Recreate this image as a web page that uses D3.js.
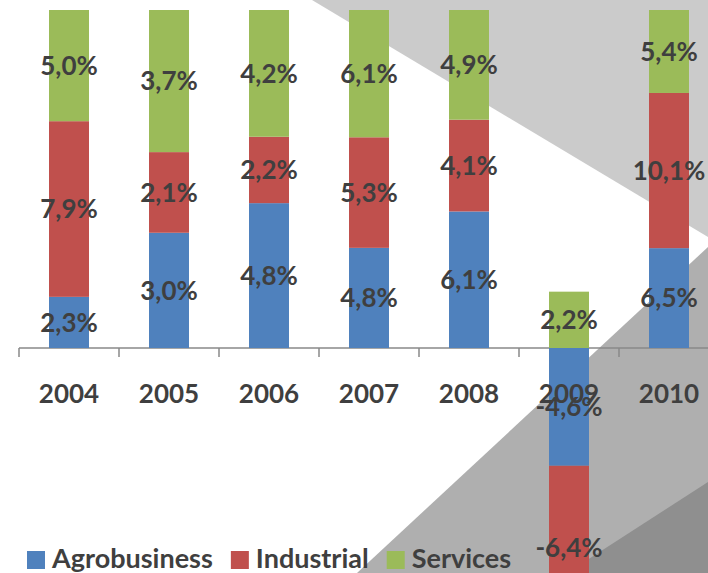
<!DOCTYPE html>
<html>
<head>
<meta charset="utf-8">
<script src="https://cdn.jsdelivr.net/npm/d3@7"></script>
<style>
  html, body { margin: 0; padding: 0; background: #ffffff; }
  svg { display: block; }
  text { font-family: Lato, "Open Sans", sans-serif; font-weight: 700; fill: #3f3f3f; }
</style>
</head>
<body>
<svg id="chart" width="708" height="573"></svg>
<script>
// Real GDP growth by sector, shown as each sector's share of the year's total movement
const years = ["2004", "2005", "2006", "2007", "2008", "2009", "2010"];
const agrobusiness = [2.3, 3.0, 4.8, 4.8, 6.1, -4.6, 6.5];
const industrial   = [7.9, 2.1, 2.2, 5.3, 4.1, -6.4, 10.1];
const services     = [5.0, 3.7, 4.2, 6.1, 4.9, 2.2, 5.4];
const seriesNames  = ["Agrobusiness", "Industrial", "Services"];
const seriesColors = ["#4f81bd", "#c0504d", "#9bbb59"];

const W = 708, H = 573;
const svg = d3.select("#chart");

// Slide backdrop: grey diagonal panels
const backdrop = [
  { fill: "#cbcbcb", pts: [[312, 0], [708, 0], [708, 237]] },
  { fill: "#afafaf", pts: [[357, 573], [708, 247], [708, 573]] },
  { fill: "#8f8f8f", pts: [[567, 573], [708, 482], [708, 573]] }
];
svg.append("g").selectAll("polygon").data(backdrop).join("polygon")
  .attr("points", d => d.pts.map(p => p.join(",")).join(" "))
  .attr("fill", d => d.fill);

// Build rows of shares: each value over the sum of absolute values for its year
const rows = years.map((y, i) => {
  const vals = [agrobusiness[i], industrial[i], services[i]];
  const tot = d3.sum(vals, v => Math.abs(v));
  const r = { year: y };
  seriesNames.forEach((k, j) => { r[k] = vals[j] / tot * 100; r[k + "_v"] = vals[j]; });
  return r;
});

const stack = d3.stack().keys(seriesNames).offset(d3.stackOffsetDiverging);
const layers = stack(rows);

const x = d3.scaleBand().domain(years).range([19, 719]).paddingInner(0.6).paddingOuter(0.3);
const y = d3.scaleLinear().domain([0, 100]).range([348, 10]);

// Category axis with boundary ticks
const gap = (x.step() - x.bandwidth()) / 2;
const axis = svg.append("g");
axis.append("line")
  .attr("x1", x(years[0]) - gap).attr("x2", W)
  .attr("y1", y(0)).attr("y2", y(0))
  .attr("stroke", "#888888").attr("stroke-width", 1.5);
const bounds = years.map(d => x(d) - gap).concat([x(years[years.length - 1]) + x.bandwidth() + gap]);
axis.selectAll("line.tick").data(bounds).join("line")
  .attr("class", "tick")
  .attr("x1", d => d).attr("x2", d => d)
  .attr("y1", y(0)).attr("y2", y(0) + 9)
  .attr("stroke", "#888888").attr("stroke-width", 1.5);

// Stacked bars
const bars = svg.append("g");
layers.forEach((layer, j) => {
  bars.selectAll(null).data(layer).join("rect")
    .attr("x", d => x(d.data.year))
    .attr("width", x.bandwidth())
    .attr("y", d => y(Math.max(d[0], d[1])))
    .attr("height", d => Math.abs(y(d[0]) - y(d[1])))
    .attr("fill", seriesColors[j]);
});

// Category labels
svg.append("g").selectAll("text").data(years).join("text")
  .attr("x", d => x(d) + x.bandwidth() / 2)
  .attr("y", 403)
  .attr("text-anchor", "middle")
  .attr("font-size", 26)
  .text(d => d);

// Value labels centred on each segment
const fmt = v => v.toFixed(1).replace(".", ",") + "%";
const labels = svg.append("g");
layers.forEach(layer => {
  labels.selectAll(null).data(layer).join("text")
    .attr("x", d => x(d.data.year) + x.bandwidth() / 2)
    .attr("y", d => y((d[0] + d[1]) / 2))
    .attr("dy", "0.36em")
    .attr("text-anchor", "middle")
    .attr("font-size", 26)
    .text(d => fmt(d.data[layer.key + "_v"]));
});

// Legend
const legend = svg.append("g");
let lx = 27;
seriesNames.forEach((name, j) => {
  legend.append("rect")
    .attr("x", lx).attr("y", 551).attr("width", 18).attr("height", 18)
    .attr("fill", seriesColors[j]);
  const t = legend.append("text")
    .attr("x", lx + 25).attr("y", 568)
    .attr("font-size", 27)
    .text(name);
  lx += 25 + t.node().getComputedTextLength() + 18;
});
</script>
</body>
</html>
